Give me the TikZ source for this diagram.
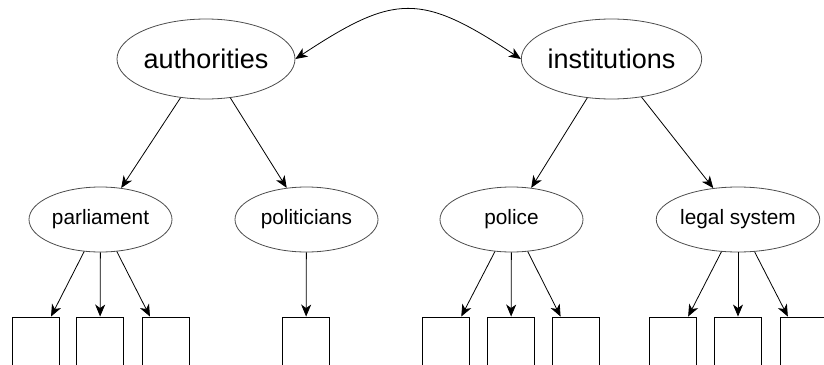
\documentclass[tikz,border=0pt]{standalone}
\usepackage{fontspec}
\setmainfont{Liberation Sans}
\usetikzlibrary{arrows.meta,shapes.geometric}
\tikzset{
  big/.style={ellipse,draw=black!70,line width=0.8pt,inner sep=0pt,minimum width=178pt,minimum height=80pt,font=\fontsize{27}{30}\selectfont},
  small/.style={ellipse,draw=black!70,line width=0.8pt,inner sep=0pt,minimum width=143pt,minimum height=65pt,font=\fontsize{20.8}{24}\selectfont},
  leaf/.style={rectangle,draw=black,line width=0.9pt,inner sep=0pt,minimum width=47pt,minimum height=60pt},
  edge/.style={draw=black,line width=0.8pt,-{Stealth[length=12pt,width=10pt,inset=3.5pt]}},
  dedge/.style={draw=black,line width=0.8pt,{Stealth[length=12pt,width=10pt,inset=3.5pt]}-{Stealth[length=12pt,width=10pt,inset=3.5pt]}}
}
\begin{document}
\begin{tikzpicture}[x=1pt,y=-1pt]
\useasboundingbox (0,0) rectangle (824,364);
\clip (0,0) rectangle (824,364);
\node[big] (auth) at (206,59) {authorities};
\node[big] (inst) at (611.5,59) {institutions};
\node[small] (parl) at (100.5,219.5) {parliament};
\node[small] (poli) at (306.5,219.5) {politicians};
\node[small] (pol) at (511.5,219.5) {police};
\node[small] (legal) at (738,219.5) {legal system};
\node[leaf] (b1) at (35.5,347) {};
\node[leaf] (b2) at (100,347) {};
\node[leaf] (b3) at (165.5,347) {};
\node[leaf] (b4) at (306,347) {};
\node[leaf] (b5) at (445.5,347) {};
\node[leaf] (b6) at (511,347) {};
\node[leaf] (b7) at (576,347) {};
\node[leaf] (b8) at (672.5,347) {};
\node[leaf] (b9) at (738,347) {};
\node[leaf] (b10) at (803.5,347) {};
\draw[dedge] (auth.east) .. controls +(100,-66) and +(-100,-66) .. (inst.west);
\draw[edge] (auth) -- (parl);
\draw[edge] (auth) -- (poli);
\draw[edge] (inst) -- (pol);
\draw[edge] (inst) -- (legal);
\draw[edge] (parl) -- (b1);
\draw[edge] (parl) -- (b2);
\draw[edge] (parl) -- (b3);
\draw[edge] (poli) -- (b4);
\draw[edge] (pol) -- (b5);
\draw[edge] (pol) -- (b6);
\draw[edge] (pol) -- (b7);
\draw[edge] (legal) -- (b8);
\draw[edge] (legal) -- (b9);
\draw[edge] (legal) -- (b10);
\end{tikzpicture}
\end{document}
